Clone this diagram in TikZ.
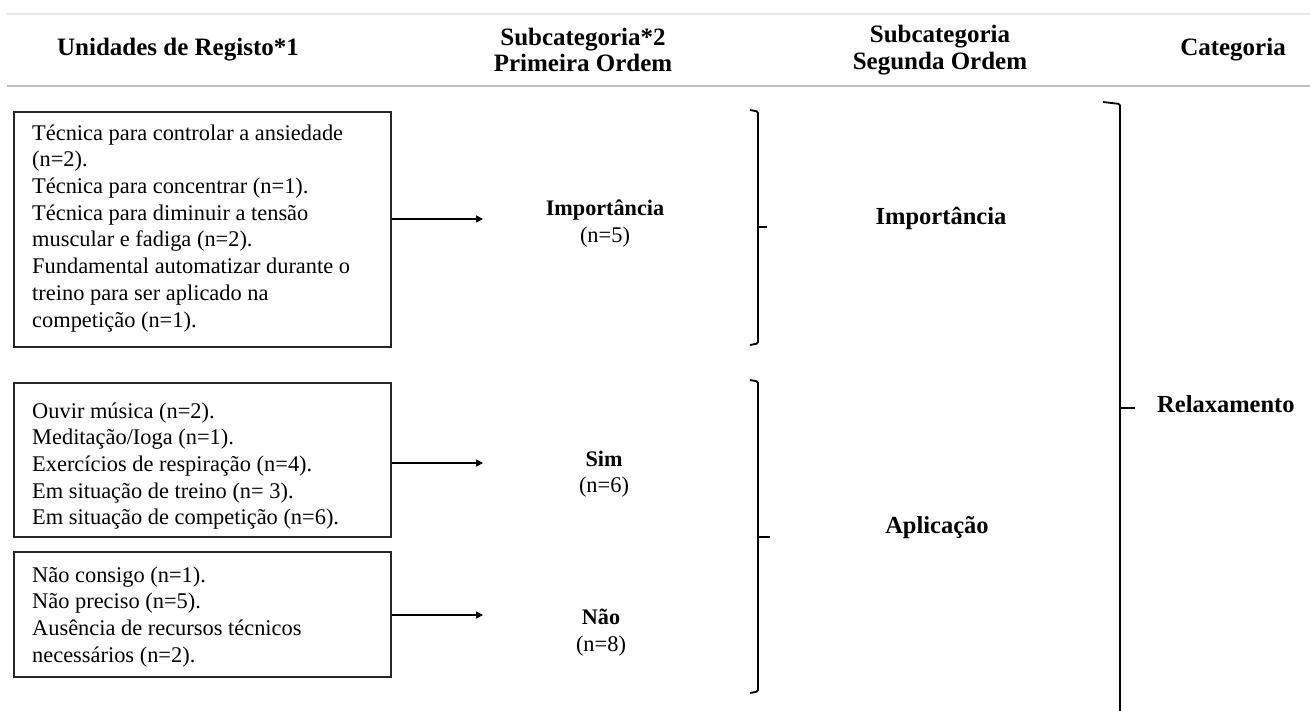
\documentclass[tikz,border=0pt]{standalone}
\usepackage{fontspec}
\setmainfont{Liberation Serif}
\usetikzlibrary{arrows.meta}
\begin{document}
\begin{tikzpicture}[x=1pt,y=-1pt,
  body/.style={font=\fontsize{22.4pt}{26.7pt}\selectfont, align=left, anchor=north west, inner sep=0pt},
  box/.style={draw=black!85, line width=1.4pt, minimum width=377pt, inner sep=0pt},
  head/.style={font=\fontsize{25pt}{26.5pt}\selectfont\bfseries, align=center, inner sep=0pt},
  lab/.style={font=\fontsize{22.2pt}{26pt}\selectfont\bfseries, inner sep=0pt, anchor=base},
  cnt/.style={font=\fontsize{22.4pt}{26pt}\selectfont, inner sep=0pt, anchor=base},
  labtwo/.style={font=\fontsize{24.5pt}{26pt}\selectfont\bfseries, inner sep=0pt, anchor=base},
  arr/.style={-{Triangle[length=7pt,width=7pt]}, line width=1.6pt},
  brk/.style={line width=1.8pt, rounded corners=1.5pt},
  rule/.style={line width=1.5pt}
]
\useasboundingbox (0,0) rectangle (1310,711);
\fill[white] (0,0) rectangle (1310,711);

% header rules
\draw[rule, draw=black!9] (7,14) -- (1310,14);
\draw[rule, draw=black!25] (7,86) -- (1310,86);

% headers
\node[head] (h1) at (178,50) {Unidades de Registo*1};
\node[head] (h2) at (583,50) {Subcategoria*2\\Primeira Ordem};
\node[head] (h3) at (940,50) {Subcategoria\\Segunda Ordem};
\node[head] (h4) at (1233,50) {Categoria};

% boxes
\node[box, minimum height=235pt] (b1) at (202.5,229.5) {};
\node[box, minimum height=154pt] (b2) at (202.5,460) {};
\node[box, minimum height=125pt] (b3) at (202.5,614.5) {};

\node[body] (t1) at (32,121.3) {\strut Técnica para controlar a ansiedade\\(n=2).\\Técnica para concentrar (n=1).\\Técnica para diminuir a tensão\\muscular e fadiga (n=2).\\Fundamental automatizar durante o\\treino para ser aplicado na\\competição (n=1).};
\node[body] (t2) at (32,399.3) {\strut Ouvir música (n=2).\\Meditação/Ioga (n=1).\\Exercícios de respiração (n=4).\\Em situação de treino (n= 3).\\Em situação de competição (n=6).};
\node[body] (t3) at (32,563.3) {\strut Não consigo (n=1).\\Não preciso (n=5).\\Ausência de recursos técnicos\\necessários (n=2).};

% first order labels
\node[lab] (l1) at (605,216) {Importância};
\node[cnt] (n1) at (605,243) {(n=5)};
\node[lab] (l2) at (604,466) {Sim};
\node[cnt] (n2) at (604,492) {(n=6)};
\node[lab] (l3) at (601,624) {Não};
\node[cnt] (n3) at (601,651) {(n=8)};

% arrows
\coordinate (a1) at (483,219);
\coordinate (a2) at (483,463);
\coordinate (a3) at (483,615);
\draw[arr] (b1.east |- a1) -- (a1);
\draw[arr] (b2.east |- a2) -- (a2);
\draw[arr] (b3.east |- a3) -- (a3);

% brackets
\draw[brk] (750,110) -- (758,111.5) -- (758,343.5) -- (750,345);
\draw[brk] (758,227) -- (767,227);
\draw[brk] (750,380) -- (758,381.5) -- (758,691.5) -- (750,693);
\draw[brk] (758,537) -- (770,537);
\draw[brk] (1103,102) -- (1120,104) -- (1120,720);
\draw[brk] (1120,408) -- (1135,408);

% second order labels and category
\node[labtwo] (s1) at (941,225) {Importância};
\node[labtwo] (s2) at (937,533) {Aplicação};
\node[labtwo, anchor=base west] (c1) at (1157,413) {Relaxamento};
\end{tikzpicture}
\end{document}
